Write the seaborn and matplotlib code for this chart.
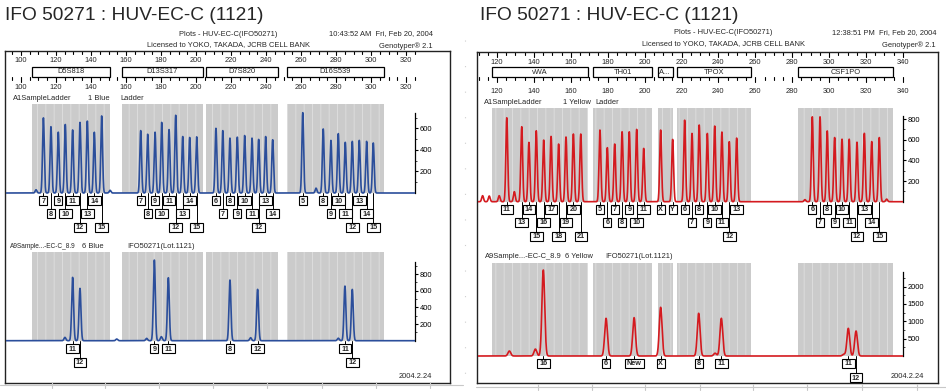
import numpy as np
import seaborn as sns
import matplotlib.pyplot as plt
from matplotlib.patches import Rectangle
from matplotlib.lines import Line2D

W, H = 946, 391

TITLE = "IFO 50271 : HUV-EC-C (1121)"

# ---------------- left run (blue dye) ----------------
L_RULER_LABELS = [100, 120, 140, 160, 180, 200, 220, 240, 260, 280, 300, 320]
L_MARKERS = ["D5S818", "D13S317", "D7S820", "D16S539"]
L_MARKER_START = [106.3, 157.7, 205.7, 252.0]
L_MARKER_END = [150.9, 204.0, 246.9, 307.4]

L_LADDER_ALLELES = [
    ["7", "8", "9", "10", "11", "12", "13", "14", "15"],
    ["7", "8", "9", "10", "11", "12", "13", "14", "15"],
    ["6", "7", "8", "9", "10", "11", "12", "13", "14"],
    ["5", "8", "9", "10", "11", "12", "13", "14", "15"],
]
L_LADDER_BP = [
    [112.8, 117.1, 121.3, 125.3, 129.5, 133.7, 137.9, 141.9, 146.1],
    [168.4, 172.4, 176.6, 180.4, 184.6, 188.4, 192.4, 196.4, 200.4],
    [211.4, 215.3, 219.4, 223.6, 227.8, 232.0, 235.8, 239.8, 243.8],
    [261.0, 272.7, 277.1, 281.3, 285.3, 289.3, 293.3, 297.5, 301.3],
]
L_LADDER_RFU = [
    [697, 615, 564, 636, 585, 655, 667, 564, 715],
    [579, 545, 564, 655, 588, 721, 524, 515, 521],
    [600, 579, 509, 518, 533, 509, 497, 524, 494],
    [745, 594, 488, 551, 470, 479, 488, 479, 464],
]
L_LADDER_ROW = [
    [0, 1, 0, 1, 0, 2, 1, 0, 2],
    [0, 1, 0, 1, 0, 2, 1, 0, 2],
    [0, 1, 0, 1, 0, 1, 2, 0, 1],
    [0, 0, 1, 0, 1, 2, 0, 1, 2],
]
L_LADDER_MINOR_BP = [108.6, 150.9, 268.6]
L_LADDER_MINOR_RFU = [30, 25, 45]

L_SAMPLE_ALLELES = ["11", "12", "9", "11", "8", "12", "11", "12"]
L_SAMPLE_BP = [129.5, 133.7, 176.2, 184.2, 219.4, 235.2, 285.1, 289.3]
L_SAMPLE_RFU = [760, 628, 968, 756, 728, 616, 656, 616]
L_SAMPLE_ROW = [0, 1, 0, 0, 0, 0, 0, 1]
L_SAMPLE_MINOR_BP = [125.1, 154.7, 171.8, 180.2, 231.2, 281.3]
L_SAMPLE_MINOR_RFU = [40, 20, 28, 48, 36, 30]

L_TOP_TICKS = [200, 400, 600]
L_BOT_TICKS = [200, 400, 600, 800]

# ---------------- right run (yellow dye) ----------------
R_RULER_LABELS = [120, 140, 160, 180, 200, 220, 240, 260, 280, 300, 320, 340]
R_MARKERS = ["vWA", "TH01", "A...", "TPOX", "CSF1PO"]
R_MARKER_START = [117.3, 172.0, 207.3, 217.6, 283.1]
R_MARKER_END = [169.3, 204.0, 215.6, 257.5, 334.6]

R_LADDER_ALLELES = [
    ["11", "13", "14", "15", "16", "17", "18", "19", "20", "21"],
    ["5", "6", "7", "8", "9", "10", "11"],
    ["X", "Y"],
    ["6", "7", "8", "9", "10", "11", "12", "13"],
    ["6", "7", "8", "9", "10", "11", "12", "13", "14", "15"],
]
R_LADDER_BP = [
    [125.3, 133.4, 137.3, 141.3, 145.3, 149.3, 153.4, 157.4, 161.4, 165.4],
    [175.8, 179.8, 183.8, 187.8, 191.7, 195.7, 199.5],
    [208.7, 215.2],
    [221.7, 225.7, 229.6, 234.0, 238.0, 241.9, 245.9, 249.9],
    [290.9, 295.1, 299.0, 303.0, 307.0, 310.9, 315.1, 319.1, 323.1, 327.2],
]
R_LADDER_RFU = [
    [813, 726, 574, 687, 597, 632, 558, 626, 655, 655],
    [694, 523, 558, 677, 677, 700, 516],
    [694, 603],
    [790, 661, 742, 661, 732, 674, 581, 616],
    [822, 822, 685, 621, 605, 605, 576, 662, 582, 621],
]
R_LADDER_ROW = [
    [0, 1, 0, 2, 1, 0, 2, 1, 0, 2],
    [0, 1, 0, 1, 0, 1, 0],
    [0, 0],
    [0, 1, 0, 1, 0, 1, 2, 0],
    [0, 1, 0, 1, 0, 1, 2, 0, 1, 2],
]
R_LADDER_MINOR_BP = [112.2, 115.8, 121.2, 129.4, 286.9, 331.2]
R_LADDER_MINOR_RFU = [58, 55, 58, 97, 20, 25]

R_SAMPLE_ALLELES = ["16", "6", "New", "X", "8", "11", "11", "12"]
R_SAMPLE_BP = [145.1, 179.1, 194.3, 208.7, 229.3, 241.6, 310.4, 314.6]
R_SAMPLE_RFU = [2480, 1087, 1106, 1404, 1231, 1087, 798, 721]
R_SAMPLE_ROW = [0, 0, 0, 0, 0, 0, 0, 1]
R_SAMPLE_MINOR_BP = [126.7, 140.8, 238.2, 308.0]
R_SAMPLE_MINOR_RFU = [144, 200, 80, 50]

R_TOP_TICKS = [200, 400, 600, 800]
R_BOT_TICKS = [500, 1000, 1500, 2000]

# ---------------- style ----------------
sns.set_theme(style="white")
plt.rcParams["font.family"] = ["Liberation Sans", "DejaVu Sans"]
plt.rcParams["hatch.linewidth"] = 0.7
SMALL = 5.4
SHADE = "#cbcbcb"
SHADE_LINES = "#dddddd"

fig = plt.figure(figsize=(W / 100, H / 100), dpi=100)
fig.patch.set_facecolor("white")


def add_ax(x0, y0, x1, y1):
    return fig.add_axes([x0 / W, 1 - y1 / H, (x1 - x0) / W, (y1 - y0) / H])


def ftext(x, y, s, **kw):
    kw.setdefault("fontsize", SMALL)
    kw.setdefault("va", "center")
    fig.text(x / W, 1 - y / H, s, **kw)


def draw_trace(lay, band, bp, rfu, sigma, color, ticks, axis_top, minor_step):
    top_px, base_px, ppu = band
    to_bp = lay["to_bp"]
    ax = add_ax(lay["trace_x0"], top_px, lay["axis_x"], base_px + 4)
    x0, x1 = to_bp(lay["trace_x0"]), to_bp(lay["axis_x"])
    grid = np.linspace(x0, x1, 5000)
    sig = np.zeros_like(grid)
    for b, h in zip(bp, rfu):
        sig += h * np.exp(-0.5 * ((grid - b) / sigma) ** 2)
    shade_top = (base_px - top_px) / ppu
    for s, e in zip(lay["starts"], lay["ends"]):
        ax.fill_between([s, e], 0, shade_top, facecolor=SHADE, edgecolor=SHADE_LINES,
                        hatch="||", linewidth=0, zorder=1)
    sns.lineplot(x=grid, y=sig, ax=ax, color=color, linewidth=1.2, estimator=None,
                 sort=False, zorder=3)
    ax.set_xlim(x0, x1)
    ax.set_ylim(-4 / ppu, shade_top)
    ax.set_facecolor("none")
    for side in ["top", "left", "bottom"]:
        ax.spines[side].set_visible(False)
    ax.spines["right"].set_bounds(0, axis_top)
    ax.spines["right"].set_color("black")
    ax.spines["right"].set_linewidth(0.9)
    ax.set_xticks([])
    ax.yaxis.tick_right()
    ax.set_yticks(ticks)
    ax.set_yticks(np.arange(minor_step, axis_top, minor_step), minor=True)
    ax.tick_params(axis="y", which="major", direction="out", length=2.5, width=0.8,
                   labelsize=SMALL, pad=1, colors="black", right=True)
    ax.tick_params(axis="y", which="minor", direction="out", length=1.4, width=0.6,
                   right=True)
    return ax


axf_ppb = {}


def draw_labels(axf, base_px, rows_px, bp, alleles, rows):
    ppb = axf_ppb[id(axf)]
    for b, a, r in zip(bp, alleles, rows):
        wpx = {1: 8.0, 2: 12.5}.get(len(a), 19.0)
        hpx = 9.0
        yc = rows_px[r]
        axf.plot([b, b], [base_px, yc - hpx / 2], color="black", lw=0.7, zorder=2)
        axf.add_patch(Rectangle((b - wpx / 2 / ppb, yc - hpx / 2), wpx / ppb, hpx,
                                facecolor="white", edgecolor="black", lw=0.8, zorder=3))
        axf.text(b, yc + 0.3, a, ha="center", va="center", fontsize=5.2,
                 fontweight="bold", zorder=4)


def draw_panel(lay, ruler_labels, markers, ladder, sample, color, texts):
    fx0, fy0, fx1, fy1 = lay["frame"]
    to_bp = lay["to_bp"]
    axf = add_ax(fx0, fy0, fx1, fy1)
    axf.set_xlim(to_bp(fx0), to_bp(fx1))
    axf.set_ylim(fy1, fy0)
    axf.set_xticks([])
    axf.set_yticks([])
    axf.set_facecolor("white")
    for sp in axf.spines.values():
        sp.set_color("#222222")
        sp.set_linewidth(1.0)
    axf_ppb[id(axf)] = lay["ppb"]

    # ruler
    num_top, box_y0, box_y1, num_bot = lay["ruler_y"]
    t0, t1 = lay["tick_range"]
    for t in range(t0, t1 + 1, 5):
        major = t % 20 == 0
        axf.plot([t, t], [fy0, fy0 + (4.5 if major else 3)], color="black", lw=0.8)
        axf.plot([t, t], [box_y1, box_y1 + (5 if major else 3)], color="black", lw=0.8)
    for v in ruler_labels:
        axf.text(v, num_top, str(v), ha="center", va="center", fontsize=SMALL)
        axf.text(v, num_bot, str(v), ha="center", va="center", fontsize=SMALL)
    for name, s, e in zip(markers, lay["starts"], lay["ends"]):
        axf.add_patch(Rectangle((s, box_y0), e - s, box_y1 - box_y0, facecolor="white",
                                edgecolor="black", lw=0.9))
        if name.endswith("..."):
            axf.text(s + 0.6, (box_y0 + box_y1) / 2, name, ha="left", va="center",
                     fontsize=SMALL)
        else:
            axf.text((s + e) / 2, (box_y0 + box_y1) / 2, name, ha="center", va="center",
                     fontsize=SMALL)

    # ladder trace
    lbp = sum(ladder["bp"], []) + ladder["minor_bp"]
    lrf = sum(ladder["rfu"], []) + ladder["minor_rfu"]
    draw_trace(lay, lay["top"], lbp, lrf, ladder["sigma"], color, ladder["ticks"],
               ladder["axis_top"], ladder["minor"])
    draw_labels(axf, lay["top"][1], lay["rows_top"], sum(ladder["bp"], []),
                sum(ladder["alleles"], []), sum(ladder["rows"], []))

    # sample trace
    sbp = sample["bp"] + sample["minor_bp"]
    srf = sample["rfu"] + sample["minor_rfu"]
    draw_trace(lay, lay["bottom"], sbp, srf, sample["sigma"], color, sample["ticks"],
               sample["axis_top"], sample["minor"])
    draw_labels(axf, lay["bottom"][1], lay["rows_bot"], sample["bp"], sample["alleles"],
                sample["rows"])

    for x, y, s, kw in texts:
        ftext(x, y, s, **kw)


def make_map(ref_px, ref_bp, ppb):
    return lambda px: ref_bp + (px - ref_px) / ppb


L_LAY = dict(frame=(5, 51, 450, 383), to_bp=make_map(21, 100, 1.75), ppb=1.75,
             axis_x=415, trace_x0=6, starts=L_MARKER_START, ends=L_MARKER_END,
             top=(104, 193, 0.1078), bottom=(251.7, 340.7, 0.0833),
             rows_top=[201, 214, 227.3], rows_bot=[349, 362.7],
             ruler_y=(61, 67, 77, 88), tick_range=(95, 325))
R_LAY = dict(frame=(477, 52, 938, 383), to_bp=make_map(497, 120, 1.845), ppb=1.845,
             axis_x=903, trace_x0=478, starts=R_MARKER_START, ends=R_MARKER_END,
             top=(108.3, 201.7, 0.1033), bottom=(262.7, 356, 0.03467),
             rows_top=[209.3, 222, 236], rows_bot=[363.3, 377.7],
             ruler_y=(62, 67, 77, 91.7), tick_range=(110, 340))

left_texts = [
    (5, 15, TITLE, dict(fontsize=13.8, ha="left")),
    (228, 34, "Plots - HUV-EC-C(IFO50271)", dict(ha="center")),
    (228, 45, "Licensed to YOKO, TAKADA, JCRB CELL BANK", dict(ha="center")),
    (433, 34, "10:43:52 AM  Fri, Feb 20, 2004", dict(ha="right")),
    (433, 46, "Genotyper\u00ae 2.1", dict(ha="right")),
    (13, 99, "A1SampleLadder", dict(ha="left")),
    (88, 99, "1 Blue", dict(ha="left")),
    (120, 99, "Ladder", dict(ha="left")),
    (10, 247, "A9Sample...-EC-C_8.9", dict(ha="left", fontsize=4.7)),
    (82, 247, "6 Blue", dict(ha="left")),
    (127, 247, "IFO50271(Lot.1121)", dict(ha="left")),
    (415, 376, "2004.2.24", dict(ha="center")),
]
right_texts = [
    (480, 15, TITLE, dict(fontsize=13.8, ha="left")),
    (723, 33, "Plots - HUV-EC-C(IFO50271)", dict(ha="center")),
    (723, 44, "Licensed to YOKO, TAKADA, JCRB CELL BANK", dict(ha="center")),
    (936, 33, "12:38:51 PM  Fri, Feb 20, 2004", dict(ha="right")),
    (936, 45, "Genotyper\u00ae 2.1", dict(ha="right")),
    (484, 102, "A1SampleLadder", dict(ha="left")),
    (563, 102, "1 Yellow", dict(ha="left")),
    (595, 102, "Ladder", dict(ha="left")),
    (485, 257, "A9Sample...-EC-C_8.9", dict(ha="left")),
    (565, 257, "6 Yellow", dict(ha="left")),
    (605, 257, "IFO50271(Lot.1121)", dict(ha="left")),
    (907, 376, "2004.2.24", dict(ha="center")),
]

draw_panel(
    L_LAY, L_RULER_LABELS, L_MARKERS,
    dict(bp=L_LADDER_BP, rfu=L_LADDER_RFU, alleles=L_LADDER_ALLELES, rows=L_LADDER_ROW,
         minor_bp=L_LADDER_MINOR_BP, minor_rfu=L_LADDER_MINOR_RFU, sigma=0.5,
         ticks=L_TOP_TICKS, axis_top=740, minor=100),
    dict(bp=L_SAMPLE_BP, rfu=L_SAMPLE_RFU, alleles=L_SAMPLE_ALLELES, rows=L_SAMPLE_ROW,
         minor_bp=L_SAMPLE_MINOR_BP, minor_rfu=L_SAMPLE_MINOR_RFU, sigma=0.55,
         ticks=L_BOT_TICKS, axis_top=948, minor=100),
    "#2b4e9b", left_texts)

draw_panel(
    R_LAY, R_RULER_LABELS, R_MARKERS,
    dict(bp=R_LADDER_BP, rfu=R_LADDER_RFU, alleles=R_LADDER_ALLELES, rows=R_LADDER_ROW,
         minor_bp=R_LADDER_MINOR_BP, minor_rfu=R_LADDER_MINOR_RFU, sigma=0.5,
         ticks=R_TOP_TICKS, axis_top=830, minor=100),
    dict(bp=R_SAMPLE_BP, rfu=R_SAMPLE_RFU, alleles=R_SAMPLE_ALLELES, rows=R_SAMPLE_ROW,
         minor_bp=R_SAMPLE_MINOR_BP, minor_rfu=R_SAMPLE_MINOR_RFU, sigma=0.75,
         ticks=R_BOT_TICKS, axis_top=2430, minor=250),
    "#d41a1f", right_texts)

# faint page rules from the scanned document
for (x0, x1, y, ticks_x) in [(0, 463, 385, [52, 105, 159, 213, 267, 322, 376, 430]),
                             (476, 946, 387, [538, 592, 645, 700, 753, 807, 862, 917])]:
    fig.add_artist(Line2D([x0 / W, x1 / W], [1 - y / H, 1 - y / H], color="#c8c8c8", lw=0.8))
    for tx in ticks_x:
        fig.add_artist(Line2D([tx / W, tx / W], [1 - (y - 3) / H, 1 - (y + 3) / H],
                              color="#c8c8c8", lw=0.8))
fig.add_artist(Line2D([465 / W, 465 / W], [1 - 40 / H, 1 - 380 / H], color="#cfcfcf",
                      lw=0.8, ls=(0, (1, 22))))

fig.savefig("out.png", dpi=100)
